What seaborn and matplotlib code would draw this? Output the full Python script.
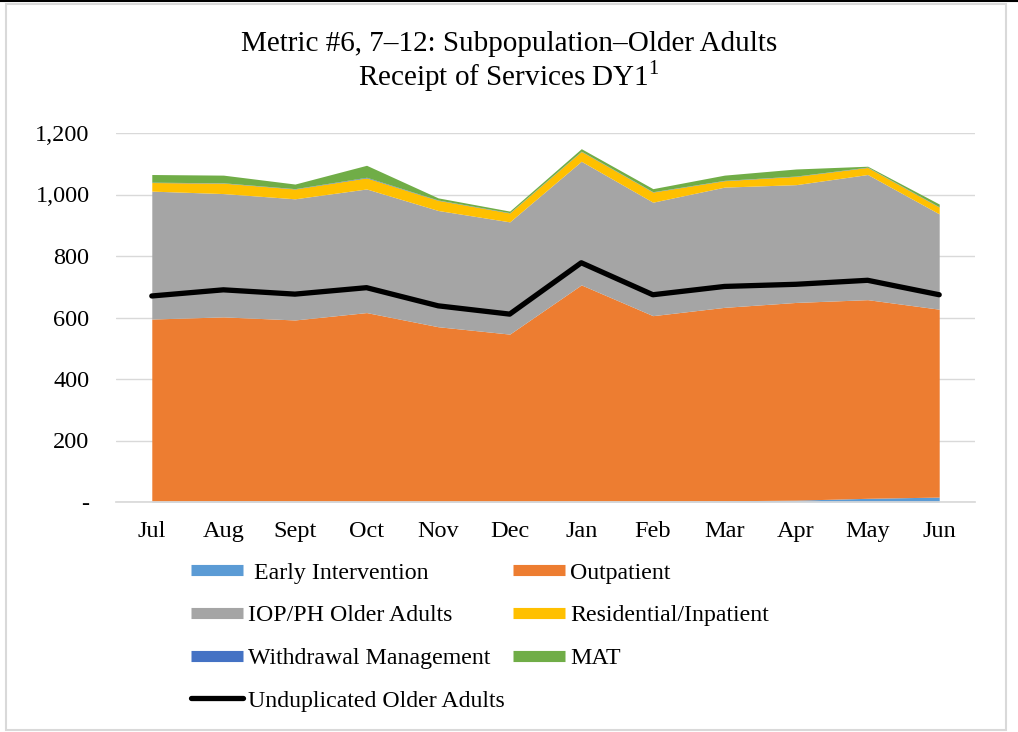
import numpy as np
import pandas as pd
import seaborn as sns
import matplotlib.pyplot as plt
from matplotlib.lines import Line2D
from matplotlib.patches import Rectangle

months = ['Jul', 'Aug', 'Sept', 'Oct', 'Nov', 'Dec', 'Jan', 'Feb', 'Mar', 'Apr', 'May', 'Jun']
early_intervention = [2, 4, 3, 2, 2, 2, 3, 3, 4, 6, 12, 16]
outpatient = [593, 598, 589, 614, 568, 544, 703, 603, 629, 643, 646, 611]
iop_ph = [416, 401, 394, 402, 378, 365, 402, 369, 391, 383, 407, 310]
residential = [28, 34, 32, 36, 33, 29, 32, 33, 21, 27, 23, 22]
withdrawal = [1, 1, 1, 2, 1, 1, 1, 1, 1, 1, 1, 1]
mat = [25, 25, 15, 39, 7, 5, 8, 10, 17, 23, 3, 9]
unduplicated = [670, 690, 676, 697, 638, 611, 778, 674, 701, 708, 721, 674]

series = ['Early Intervention', 'Outpatient', 'IOP/PH Older Adults',
          'Residential/Inpatient', 'Withdrawal Management', 'MAT']
colors = ['#5B9BD5', '#ED7D31', '#A5A5A5', '#FFC000', '#4472C4', '#70AD47']

df = pd.DataFrame({'month': months, 'x': np.arange(len(months)),
                   'Unduplicated Older Adults': unduplicated})

sns.set_theme(style='white')
plt.rcParams['font.family'] = ['Liberation Serif', 'DejaVu Serif']
plt.rcParams['mathtext.fontset'] = 'custom'
plt.rcParams['mathtext.rm'] = 'Liberation Serif'
plt.rcParams['text.color'] = 'black'
plt.rcParams['xtick.color'] = 'black'
plt.rcParams['ytick.color'] = 'black'

fig = plt.figure(figsize=(10.18, 7.32), dpi=100)
ax = fig.add_axes([116 / 1018, 1 - 502 / 732, (975 - 116) / 1018, (502 - 133) / 732])

ax.stackplot(df['x'], early_intervention, outpatient, iop_ph, residential, withdrawal, mat,
             colors=colors, linewidth=0)
sns.lineplot(data=df, x='x', y='Unduplicated Older Adults', color='black', lw=3.8,
             ax=ax, legend=False, solid_capstyle='round', zorder=5)

ax.set_xlim(-0.5, 11.5)
ax.set_ylim(0, 1200)
ax.set_yticks(range(0, 1201, 200))
ax.set_yticklabels(['-'] + [f'{v:,}' for v in range(200, 1201, 200)])
ax.set_xticks(df['x'])
ax.set_xticklabels(months)
ax.set_xticks(np.arange(-0.5, 12, 1), minor=True)
ax.tick_params(axis='x', which='major', length=0, pad=14, labelsize=17.5)
ax.tick_params(axis='x', which='minor', length=7, color='#D9D9D9', width=1, direction='out')
ax.tick_params(axis='y', length=0, pad=19, labelsize=17.5)
ax.grid(axis='y', color='#D9D9D9', lw=1)
ax.set_axisbelow(True)
ax.set_xlabel('')
ax.set_ylabel('')
for s in ['top', 'right', 'left']:
    ax.spines[s].set_visible(False)
ax.spines['bottom'].set_color('#D9D9D9')
ax.spines['bottom'].set_zorder(6)

fig.text(0.5, 1 - 44 / 732, 'Metric #6, 7\u201312: Subpopulation\u2013Older Adults',
         ha='center', va='center', fontsize=21)
fig.text(0.5, 1 - 76 / 732, 'Receipt of Services DY1$^{1}$',
         ha='center', va='center', fontsize=21)

# legend: two columns, row order as in the original
area_h = [Line2D([0], [0], color=c, lw=8, solid_capstyle='butt') for c in colors]
line_h = Line2D([0], [0], color='black', lw=3.8, solid_capstyle='round')
handles = [area_h[0], area_h[2], area_h[4], line_h, area_h[1], area_h[3], area_h[5]]
labels = [' ' + series[0], series[2], series[4], 'Unduplicated Older Adults',
          series[1], series[3], series[5]]
fig.legend(handles, labels, ncol=2, loc='upper left', bbox_to_anchor=(191 / 1018, 1 - 562 / 732),
           frameon=False, fontsize=17.2, handlelength=2.18, handletextpad=0.2,
           labelspacing=0.875, columnspacing=0.35, borderpad=0, borderaxespad=0)

fig.patches.append(Rectangle((6 / 1018, 2 / 732), 1000 / 1018, 726 / 732, transform=fig.transFigure,
                             fill=False, edgecolor='#D9D9D9', lw=1.5))
fig.lines.append(Line2D([0, 1], [1 - 1 / 732, 1 - 1 / 732], transform=fig.transFigure,
                        color='black', lw=1.5))

fig.savefig('out.png', dpi=100)
